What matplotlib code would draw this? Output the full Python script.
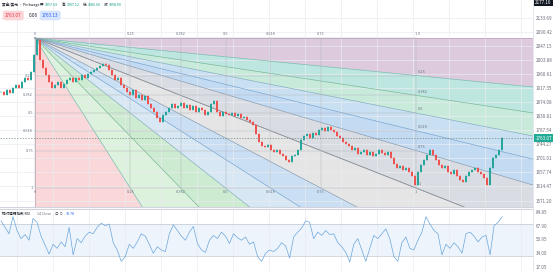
import numpy as np
import matplotlib
matplotlib.use("Agg")
import matplotlib.pyplot as plt
import matplotlib.transforms as mtransforms

plt.rcParams["font.family"] = ["Noto Sans CJK SC", "DejaVu Sans"]

# daily closes of gold / USD
close = [
    1905.5, 1896.3, 1911.7, 1902.5, 1917.9, 1927.1, 1917.9, 1936.3, 1948.7, 1942.5,
    1967.1, 2019.5, 2066.0, 2004.1, 1979.5, 1957.9, 1936.3, 1917.9, 1927.1, 1936.3,
    1917.9, 1930.2, 1942.5, 1948.7, 1936.3, 1948.7, 1942.5, 1957.9, 1948.7, 1961.0,
    1967.1, 1973.3, 1979.5, 1985.6, 1991.8, 1988.7, 1973.3, 1957.9, 1942.5, 1948.7,
    1927.1, 1917.9, 1905.5, 1896.3, 1911.7, 1887.1, 1896.3, 1880.9, 1893.2, 1868.6,
    1856.3, 1843.9, 1825.4, 1813.1, 1834.7, 1843.9, 1856.3, 1868.6, 1856.3, 1862.4,
    1871.7, 1856.3, 1865.5, 1850.1, 1862.4, 1843.9, 1856.3, 1850.1, 1834.7, 1843.9,
    1868.6, 1877.8, 1843.9, 1831.6, 1843.9, 1837.8, 1834.7, 1840.9, 1831.6, 1837.8,
    1825.4, 1828.5, 1819.3, 1813.1, 1803.9, 1776.2, 1751.5, 1739.2, 1736.1, 1742.3,
    1726.9, 1720.7, 1726.9, 1714.6, 1708.4, 1696.1, 1689.9, 1708.4, 1711.5, 1726.9,
    1757.7, 1770.0, 1776.2, 1763.9, 1779.3, 1773.1, 1788.5, 1794.7, 1785.4, 1797.8,
    1788.5, 1782.3, 1770.0, 1763.9, 1751.5, 1745.4, 1739.2, 1726.9, 1733.1, 1714.6,
    1720.7, 1726.9, 1711.5, 1720.7, 1708.4, 1714.6, 1726.9, 1717.7, 1711.5, 1720.7,
    1702.3, 1683.8, 1671.5, 1677.6, 1665.3, 1671.5, 1659.2, 1646.8, 1618.0, 1659.2,
    1680.7, 1696.1, 1711.5, 1726.9, 1711.5, 1696.1, 1680.7, 1671.5, 1677.6, 1659.2,
    1653.0, 1665.3, 1646.8, 1634.5, 1628.3, 1646.8, 1659.2, 1665.3, 1671.5, 1659.2,
    1653.0, 1640.6, 1620.0, 1671.5, 1702.3, 1711.5, 1726.9, 1763.07,
]

# RSI(14)
rsi = [
    74, 66, 58, 79, 62, 52, 57, 50, 77, 72,
    55, 44, 33, 45, 40, 48, 42, 66, 32, 52,
    47, 55, 60, 58, 66, 71, 68, 70, 47, 38,
    24, 30, 45, 40, 48, 58, 55, 45, 34, 42,
    38, 36, 58, 69, 62, 55, 50, 60, 67, 46,
    38, 35, 50, 56, 52, 60, 55, 46, 58, 53,
    50, 54, 45, 48, 30, 24, 34, 38, 36, 40,
    47, 43, 28, 54, 60, 65, 74, 72, 52, 60,
    56, 62, 57, 58, 47, 42, 35, 23, 45, 52,
    38, 24, 40, 56, 52, 58, 64, 52, 30, 24,
    47, 54, 40, 38, 50, 60, 79, 70, 62, 58,
    32, 45, 40, 47, 42, 34, 58, 60, 55, 48,
    54, 56, 32, 68, 72, 79,
]

price_ticks = [1571.20, 1614.47, 1657.74, 1701.01, 1744.27, 1787.54, 1830.81,
               1874.08, 1917.35, 1960.61, 2003.88, 2047.15, 2090.42, 2133.69]
rsi_ticks = [17.05, 34.00, 50.95, 67.90, 84.85]

fib_levels = [0, 0.25, 0.382, 0.5, 0.618, 0.75, 1]
fan_start = (11.33, 2071.8)   # (bar, price)
fan_end = (138.33, 1609.7)
last_price = 1763.07

price_fill = ["#ddcbdd", "#bde6e0", "#c8eada", "#c9e0f3", "#c3daf3", "#d9dde3"]
time_fill = ["#fad8d9", "#dcf2dc", "#cdebd0", "#d7e7f4", "#cadff4", "#e5e5e5"]
line_cols = ["#b79bb7", "#6fb3a8", "#6cb28f", "#7aaab8", "#6d9fce", "#7f93a8", "#8a9099"]

W, H = 554, 271
fig = plt.figure(figsize=(W / 100, H / 100), dpi=100)
ax = fig.add_axes([0, 64 / H, 533 / W, 207 / H])
ax_rsi = fig.add_axes([0, 0, 533 / W, 62 / H])

n = len(close)
bars = np.arange(n)
xlim = (-0.33, 177.3)
ylim = (1551.3, 2188.9)
ax.set_xlim(xlim)
ax.set_ylim(ylim)

# --- fib speed resistance fan ---
x0, p0 = fan_start
x1, p1 = fan_end
dx = x1 - x0
dp = p0 - p1
xr = xlim[1]
yb = ylim[0]
r = (xr - x0) / dx
k = (p0 - yb) / dp

for i in range(len(fib_levels) - 1):
    a, b = fib_levels[i], fib_levels[i + 1]
    ax.fill([x0, xr, xr], [p0, p0 - a * dp * r, p0 - b * dp * r],
            color=price_fill[i], lw=0, zorder=0.5)
    ax.fill([x0, x0 + a * dx * k, x0 + b * dx * k], [p0, yb, yb],
            color=time_fill[i], lw=0, zorder=0.5)

for lv, col in zip(fib_levels, line_cols):
    ax.plot([x0, xr], [p0, p0 - lv * dp * r], color=col, lw=0.45, zorder=1.6)
    ax.plot([x0, x0 + lv * dx * k], [p0, yb], color=col, lw=0.45, zorder=1.6)

lab_kw = dict(textcoords="offset points", fontsize=2.8, color="#6b7280", zorder=5)
for lv in fib_levels:
    ax.plot([x0 + lv * dx] * 2, [p0, p1], color="#b3b8bf", lw=0.35, zorder=1.6)
    ax.plot([x0, x1], [p0 - lv * dp] * 2, color="#b3b8bf", lw=0.35, zorder=1.6)
    lab = f"{lv:g}"
    ax.annotate(lab, (x0 + lv * dx, p0), xytext=(0, 1.2), ha="center", va="bottom", **lab_kw)
    ax.annotate(lab, (x0 + lv * dx, p1), xytext=(0, -1.2), ha="center", va="top", **lab_kw)
    if lv > 0:
        ax.annotate(lab, (x0, p0 - lv * dp), xytext=(-1.5, 0), ha="right", va="center", **lab_kw)
    ax.annotate(lab, (x1, p0 - lv * dp), xytext=(1.5, 1.2), ha="left", va="bottom", **lab_kw)

# --- candles ---
closes = np.array(close)
opens = np.r_[closes[0], closes[:-1]]
up = closes >= opens
colors = np.where(up, "#26a69a", "#ef5350")
wick = 3.0
ax.vlines(bars, np.minimum(opens, closes) - wick, np.maximum(opens, closes) + wick,
          colors=colors, lw=0.35, zorder=3)
ax.bar(bars, np.abs(closes - opens) + 0.8, bottom=np.minimum(opens, closes),
       width=0.45, color=colors, lw=0, zorder=3)

ax.axhline(last_price, color="#6f8a80", lw=0.5, ls=(0, (2, 2)), zorder=4)

# --- axes styling ---
ax.set_yticks(price_ticks)
ax.set_yticklabels([f"{v:.2f}" for v in price_ticks])
ax.yaxis.tick_right()
ax.tick_params(axis="y", length=0, pad=2, labelsize=3.3, labelcolor="#6a6d78")
grid_x = np.arange(5.33, 178, 12)
ax.set_xticks(grid_x)
ax.tick_params(axis="x", length=0, labelbottom=False)
ax.grid(True, color="#e9ecf1", lw=0.5)
for s in ["top", "left"]:
    ax.spines[s].set_visible(False)
ax.spines["right"].set_color("#e0e3eb")
ax.spines["right"].set_linewidth(0.6)
ax.spines["bottom"].set_color("#d1d4dc")
ax.spines["bottom"].set_linewidth(0.8)

trans = mtransforms.blended_transform_factory(ax.transAxes, ax.transData)
ax.text(1.004, last_price, "1763.07", transform=trans, ha="left", va="center",
        fontsize=3.3, color="white", zorder=6,
        bbox=dict(boxstyle="square,pad=0.3", fc="#22ab94", ec="none"))
ax.text(1.004, 2181.0, "2177.16", transform=trans, ha="left", va="center",
        fontsize=3.3, color="white", zorder=6,
        bbox=dict(boxstyle="square,pad=0.3", fc="#131722", ec="none"))

# --- RSI pane ---
ax_rsi.set_xlim(xlim)
ax_rsi.set_ylim(12.1, 88.5)
ax_rsi.axhspan(30, 70, color="#eef4fc", lw=0, zorder=0)
ax_rsi.axhline(70, color="#c3c7ce", lw=0.5)
ax_rsi.axhline(30, color="#c3c7ce", lw=0.5)
ax_rsi.plot(np.linspace(0, n - 1, len(rsi)), rsi, color="#6aa6dc", lw=0.5, zorder=3)
ax_rsi.set_yticks(rsi_ticks)
ax_rsi.set_yticklabels([f"{v:.2f}" for v in rsi_ticks])
ax_rsi.yaxis.tick_right()
ax_rsi.tick_params(axis="y", length=0, pad=2, labelsize=3.3, labelcolor="#6a6d78")
ax_rsi.set_xticks(grid_x)
ax_rsi.tick_params(axis="x", length=0, labelbottom=False)
ax_rsi.grid(True, axis="x", color="#e9ecf1", lw=0.5)
for s in ["bottom", "left"]:
    ax_rsi.spines[s].set_visible(False)
ax_rsi.spines["right"].set_color("#e0e3eb")
ax_rsi.spines["right"].set_linewidth(0.6)
ax_rsi.spines["top"].set_color("#d1d4dc")
ax_rsi.spines["top"].set_linewidth(0.8)

# --- legends ---
def ftext(x, y, s, **kw):
    fig.text(x / W, 1 - y / H, s, ha="left", va="center", **kw)

ftext(2, 5, "黄金/美元 · Pinkwage", fontsize=2.6, color="#131722")
ohlc = [("开", "1857.63", 40), ("高", "1907.12", 62), ("低", "1686.66", 83), ("收", "1858.09", 104)]
for lab, val, xp in ohlc:
    ftext(xp, 5, lab, fontsize=2.6, color="#131722")
    ftext(xp + 4.5, 5, val, fontsize=2.6, color="#089981")

ftext(5, 15.5, "1763.07", fontsize=3.3, color="#f23645",
      bbox=dict(boxstyle="round,pad=0.5", fc="#fbd5d8", ec="none"))
ftext(29, 15.5, "0.06", fontsize=3.3, color="#131722")
ftext(42, 15.5, "1763.13", fontsize=3.3, color="#2962ff",
      bbox=dict(boxstyle="round,pad=0.5", fc="#d6e4fd", ec="none"))

ftext(2, 214, "相对强弱指数 RSI", fontsize=2.6, color="#131722")
ftext(37, 214, "14 Close", fontsize=2.6, color="#6a6d78")
ftext(55, 214, "◎ ⊙", fontsize=2.6, color="#6a6d78")
ftext(66, 214, "78.78", fontsize=2.6, color="#2962ff")

fig.savefig("out.png", dpi=100)
